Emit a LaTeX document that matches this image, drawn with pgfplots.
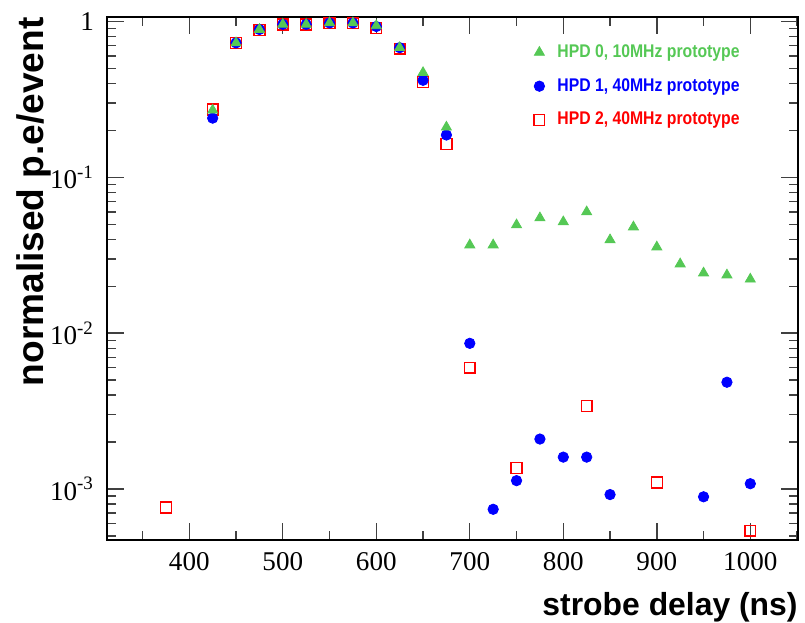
\documentclass[border=0pt]{standalone}
\usepackage{fontspec}
\setmainfont{Liberation Serif}
\newfontfamily\tickfont{Liberation Serif}
\newfontfamily\labfont{Liberation Sans}
\newfontfamily\legfont[FakeStretch=0.86]{Liberation Sans}
\usepackage{pgfplots}
\pgfplotsset{compat=1.18}
\definecolor{hpdgreen}{RGB}{85,200,85}
\definecolor{hpdblue}{RGB}{0,0,255}
\definecolor{hpdred}{RGB}{255,0,0}

\begin{document}
\begin{tikzpicture}
\begin{axis}[
    scale only axis,
    width=345.5bp, height=261.5bp,
    ymode=log,
    xmin=312, xmax=1051,
    ymin=4.7e-4, ymax=1.07,
    xtick={400,500,600,700,800,900,1000},
    xticklabels={400,500,600,700,800,900,1000},
    minor xtick={350,450,550,650,750,850,950,1050},
    ytick={1e-3,1e-2,1e-1,1},
    yticklabels={10\textsuperscript{-3},10\textsuperscript{-2},10\textsuperscript{-1},1},
    minor ytick={5e-4,6e-4,7e-4,8e-4,9e-4,
                 2e-3,3e-3,4e-3,5e-3,6e-3,7e-3,8e-3,9e-3,
                 2e-2,3e-2,4e-2,5e-2,6e-2,7e-2,8e-2,9e-2,
                 2e-1,3e-1,4e-1,5e-1,6e-1,7e-1,8e-1,9e-1},
    tick align=inside,
    major tick length=8.5bp,
    minor tick length=4.5bp,
    every tick/.style={black!75, line width=0.7bp},
    axis line style={black, line width=0.9bp},
    tick label style={font=\tickfont\fontsize{13.6}{14}\selectfont},
    xticklabel style={yshift=-2.5bp},
    yticklabel style={xshift=-3bp},
    xlabel={strobe delay (ns)},
    ylabel={normalised p.e/event},
    xlabel style={at={(rel axis cs:1,-0.0994)}, anchor=north east, inner sep=0pt,
                  font=\labfont\bfseries\fontsize{16}{16}\selectfont},
    ylabel style={at={(rel axis cs:-0.0796,1)}, anchor=south east, inner sep=0pt,
                  font=\labfont\bfseries\fontsize{18.6}{18.6}\selectfont},
    legend style={at={(rel axis cs:0.6165,0.952)}, anchor=north west,
                  draw=none, fill=none, row sep=7bp, inner sep=0pt,
                  nodes={inner sep=1bp},
                  font=\legfont\bfseries\fontsize{9.2}{10}\selectfont},
    legend cell align=left,
    legend image code/.code={
        \path[draw=none, fill=none, use as bounding box] (0bp,-3bp) rectangle (11bp,3bp);
        \draw[#1] plot coordinates {(3bp,0bp)};},
]
\coordinate (bl) at (rel axis cs:0,0);
\coordinate (tr) at (rel axis cs:1,1);

\addlegendimage{only marks, mark=triangle*, mark size=2.9bp, hpdgreen}
\addlegendentry{\textcolor{hpdgreen}{HPD 0, 10MHz prototype}}
\addlegendimage{only marks, mark=*, mark size=2.6bp, hpdblue}
\addlegendentry{\textcolor{hpdblue}{HPD 1, 40MHz prototype}}
\addlegendimage{only marks, mark=square, mark size=2.7bp, hpdred, line width=0.7bp}
\addlegendentry{\textcolor{hpdred}{HPD 2, 40MHz prototype}}

% HPD 2
\addplot[forget plot, only marks, mark=square, mark size=2.7bp, hpdred, line width=0.7bp]
coordinates {
(375,7.6e-4) (425,0.273) (450,0.73) (475,0.885) (500,0.957) (525,0.957)
(550,0.975) (575,0.975) (600,0.91) (625,0.67) (650,0.41) (675,0.164)
(700,6.0e-3) (750,1.36e-3) (825,3.4e-3) (900,1.10e-3) (1000,5.4e-4)
};
% HPD 1
\addplot[forget plot, only marks, mark=*, mark size=2.6bp, hpdblue]
coordinates {
(425,0.24) (450,0.73) (475,0.89) (500,0.96) (525,0.96) (550,0.98) (575,0.98)
(600,0.93) (625,0.68) (650,0.42) (675,0.187)
(700,8.6e-3) (725,7.4e-4) (750,1.13e-3) (775,2.09e-3) (800,1.6e-3) (825,1.6e-3)
(850,9.2e-4) (950,8.9e-4) (975,4.84e-3) (1000,1.08e-3)
};
% HPD 0
\addplot[forget plot, only marks, mark=triangle*, mark size=2.9bp, hpdgreen]
coordinates {
(425,0.27) (450,0.73) (475,0.89) (500,0.96) (525,0.96) (550,0.98) (575,0.98)
(600,0.94) (625,0.68) (650,0.47) (675,0.21)
(700,0.0368) (725,0.0368) (750,0.0495) (775,0.0549) (800,0.0518) (825,0.060)
(850,0.0397) (875,0.048) (900,0.0357) (925,0.0278) (950,0.0243) (975,0.0236)
(1000,0.0222)
};
\end{axis}
\pgfresetboundingbox
\path ([xshift=-53.5bp,yshift=-41.5bp]bl) rectangle ([xshift=3.5bp,yshift=8.5bp]tr);
\end{tikzpicture}
\end{document}
